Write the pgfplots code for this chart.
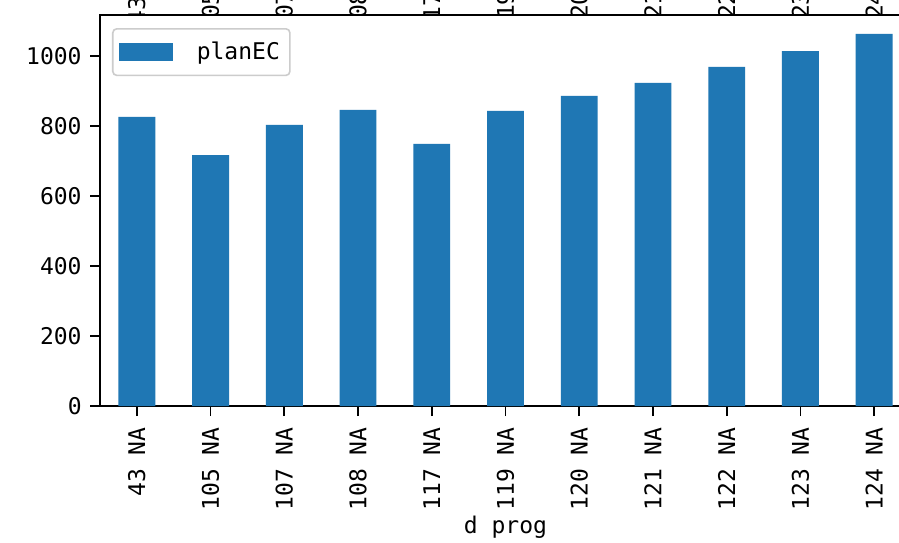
\documentclass[border=0pt]{standalone}
\usepackage{pgfplots}
\pgfplotsset{compat=1.18}
\usepackage{fontspec}
\setmainfont{DejaVu Sans Mono}
\definecolor{barblue}{HTML}{1F77B4}
\definecolor{legedge}{HTML}{CCCCCC}
\newcommand{\lf}{\fontsize{11.5}{13.5}\selectfont}
\begin{document}
\begin{tikzpicture}
\begin{scope}
\clip (0,0) rectangle (449.5pt,271pt);
% labels of the (cropped) subplot above
\begin{axis}[at={(50pt,68pt)}, anchor=south west, scale only axis,
  width=405.5pt, height=195.5pt, xmin=-0.5, xmax=10.5, ymin=0, ymax=1117,
  hide axis, clip=false]
\node[rotate=90,anchor=west,inner sep=0pt,font=\lf] at (axis cs:0,1088) {43 NA};
\node[rotate=90,anchor=west,inner sep=0pt,font=\lf] at (axis cs:1,1065) {105 NA};
\node[rotate=90,anchor=west,inner sep=0pt,font=\lf] at (axis cs:2,1065) {107 NA};
\node[rotate=90,anchor=west,inner sep=0pt,font=\lf] at (axis cs:3,1065) {108 NA};
\node[rotate=90,anchor=west,inner sep=0pt,font=\lf] at (axis cs:4,1062) {117 NA};
\node[rotate=90,anchor=west,inner sep=0pt,font=\lf] at (axis cs:5,1065) {119 NA};
\node[rotate=90,anchor=west,inner sep=0pt,font=\lf] at (axis cs:6,1065) {120 NA};
\node[rotate=90,anchor=west,inner sep=0pt,font=\lf] at (axis cs:7,1065) {121 NA};
\node[rotate=90,anchor=west,inner sep=0pt,font=\lf] at (axis cs:8,1065) {122 NA};
\node[rotate=90,anchor=west,inner sep=0pt,font=\lf] at (axis cs:9,1065) {123 NA};
\node[rotate=90,anchor=west,inner sep=0pt,font=\lf] at (axis cs:10,1065) {124 NA};
\end{axis}
\begin{axis}[at={(50pt,68pt)}, anchor=south west, scale only axis,
  width=405.5pt, height=195.5pt,
  axis background/.style={fill=white},
  xmin=-0.5, xmax=10.5, ymin=0, ymax=1117,
  xtick={0,...,10},
  xticklabels={43 NA,105 NA,107 NA,108 NA,117 NA,119 NA,120 NA,121 NA,122 NA,123 NA,124 NA},
  ytick={0,200,400,600,800,1000},
  xtick pos=lower, ytick pos=left,
  tick align=outside, major tick length=5pt,
  tick style={black, line width=0.9pt},
  major tick style={black, line width=0.9pt},
  axis line style={black, line width=0.9pt},
  /pgf/number format/assume math mode=true,
  /pgf/number format/1000 sep={},
  x tick label style={rotate=90, anchor=east, inner sep=0pt, font=\lf},
  y tick label style={anchor=east, inner sep=0pt, font=\lf},
  xticklabel shift=5.5pt, yticklabel shift=4pt,
  xlabel={d prog},
  xlabel style={at={(axis description cs:0.5,-0.3248)}, anchor=base, font=\lf, inner sep=0pt},
  legend style={at={(0,1)}, anchor=north west, xshift=6pt, yshift=-6.5pt,
    draw=legedge, line width=0.8pt, rounded corners=2pt,
    inner xsep=3pt, inner ysep=4.5pt, font=\lf},
  legend cell align=left,
  legend image code/.code={\fill[barblue, draw=none, sharp corners] (0pt,-4.5pt) rectangle (27pt,4.5pt);
    \path[draw=none, fill=none] (0pt,0pt) -- (37pt,0pt);},
]
\addplot[ybar, bar width=0.5, fill=barblue, draw=none] coordinates {
(0,826) (1,717) (2,803) (3,846) (4,749) (5,843) (6,886) (7,923) (8,969) (9,1014) (10,1063)};
\addlegendentry{planEC}
\end{axis}
\end{scope}
\pgfresetboundingbox
\useasboundingbox (0,0) rectangle (449.5pt,271pt);
\end{tikzpicture}
\end{document}
